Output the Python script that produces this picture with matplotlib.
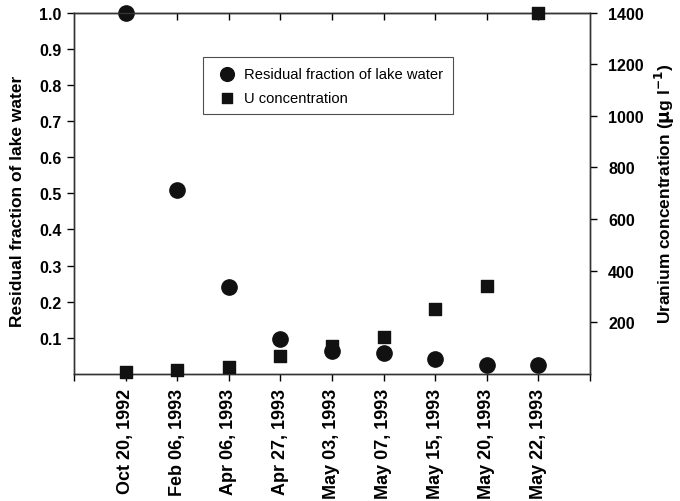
import matplotlib
matplotlib.use('Agg')
import matplotlib.pyplot as plt
import numpy as np

plt.rcParams['font.family'] = ['Liberation Sans', 'DejaVu Sans']

# ---- data ----
dates = ['Oct 20, 1992', 'Feb 06, 1993', 'Apr 06, 1993', 'Apr 27, 1993',
         'May 03, 1993', 'May 07, 1993', 'May 15, 1993', 'May 20, 1993',
         'May 22, 1993']
residual = [1.0, 0.508, 0.242, 0.097, 0.064, 0.059, 0.041, 0.026, 0.024]
u_conc = [9, 15, 27, 71, 110, 142, 250, 342, 1400]

xpos = np.arange(1, len(dates) + 1)

fig = plt.figure(figsize=(6.8, 5.02), dpi=100)
ax = fig.add_axes([0.1088, 0.253, 0.7588, 0.72])
ax2 = ax.twinx()

h1 = ax.scatter(xpos, residual, s=11**2, marker='o', color='#111111',
                zorder=5, clip_on=False, label='Residual fraction of lake water')
h2 = ax2.scatter(xpos, u_conc, s=8.6**2, marker='s', color='#111111',
                 zorder=5, clip_on=False, label='U concentration')

ax.set_xlim(0, 10)
ax.set_ylim(0, 1.0)
ax2.set_ylim(0, 1400)

# bottom: ticks at every slot, labels only on dates
ax.set_xticks(np.arange(0, 11))
ax.set_xticklabels([''] + dates + [''], rotation=90, fontweight='bold', fontsize=13)
ax.tick_params(axis='x', direction='out', length=5, width=1, pad=5)

yt = np.round(np.arange(0.1, 1.01, 0.1), 1)
ax.set_yticks(yt)
ax.set_yticklabels([f'{v:.1f}' for v in yt], fontweight='bold', fontsize=11.5)
ax.tick_params(axis='y', direction='out', length=5, width=1, pad=4)

ax2.set_yticks(np.arange(200, 1401, 200))
ax2.set_yticklabels([str(v) for v in range(200, 1401, 200)],
                    fontweight='bold', fontsize=11.5)
ax2.tick_params(axis='y', direction='out', length=5, width=1, pad=8)

# inward ticks along the top edge
top = ax.secondary_xaxis('top')
top.set_xticks(xpos)
top.set_xticklabels([])
top.tick_params(direction='in', length=5, width=1)

for a in (ax, ax2):
    for sp in a.spines.values():
        sp.set_linewidth(1)
        sp.set_color('#333333')

ax.set_ylabel('Residual fraction of lake water', fontweight='bold', fontsize=12.5)
ax.yaxis.set_label_coords(-0.094, 0.48)
ax2.set_ylabel(r'Uranium concentration ($\mathbf{\mu}$g l$^{\mathbf{-1}}$)',
               fontweight='bold', fontsize=12.5)
ax2.yaxis.set_label_coords(1.122, 0.5)

leg = ax.legend([h1, h2], ['Residual fraction of lake water', 'U concentration'],
                loc='upper left', bbox_to_anchor=(0.25, 0.877), fontsize=10.6,
                frameon=True, fancybox=False, edgecolor='#222222',
                handletextpad=0.15, borderpad=0.65, labelspacing=0.7,
                borderaxespad=0, markerscale=0.9)
leg.get_frame().set_linewidth(0.8)
leg.set_zorder(10)

fig.savefig('out.png', dpi=100)
